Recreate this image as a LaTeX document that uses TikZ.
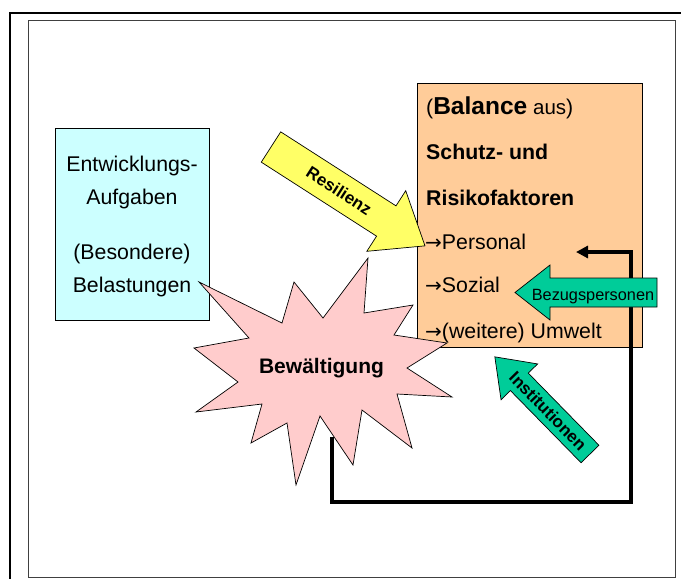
\documentclass[tikz,border=0pt]{standalone}
\usepackage{fontspec}
\setmainfont{Liberation Sans}
\newfontfamily\pfeilfont{DejaVu Sans}
\usetikzlibrary{positioning,arrows.meta}

\definecolor{aufgabencyan}{HTML}{CCFFFF}
\definecolor{faktorenorange}{HTML}{FFCC99}
\definecolor{resilienzgelb}{HTML}{FFFF66}
\definecolor{bewaeltigungrosa}{HTML}{FFCCCC}
\definecolor{stuetzgruen}{HTML}{00CC99}

\newcommand{\pfeil}{{\pfeilfont\fontsize{20}{24}\selectfont →}}

\tikzset{
  boxtext/.style={inner sep=0, font=\fontsize{21.3}{25}\selectfont},
  arrowtext/.style={inner sep=0, font=\fontsize{17}{20}\selectfont\bfseries},
  blockarrow/.style={draw=black, line width=0.7pt, line join=miter}
}

\begin{document}
\begin{tikzpicture}[x=1pt, y=-1pt]
\useasboundingbox (0,0) rectangle (681,579);
\draw[line width=2pt] (681,12.7) -- (10,12.7) -- (10,579);
\draw[black!75, line width=1pt] (28,20) rectangle (675,577);

% linke Box
\node[draw, fill=aufgabencyan, line width=0.7pt, inner sep=0, anchor=north west,
    minimum width=154pt, minimum height=192pt] (aufgaben) at (55,128) {};
\node[boxtext, anchor=base] (entw) at (132,171) {Entwicklungs-};
\node[boxtext, anchor=base] (aufg) at (132,204) {Aufgaben};
\node[boxtext, anchor=base] (besond) at (132,259) {(Besondere)};
\node[boxtext, anchor=base] (belast) at (132,292) {Belastungen};

% rechte Box
\node[draw, fill=faktorenorange, line width=0.7pt, inner sep=0, anchor=north west,
    minimum width=225pt, minimum height=264pt] (faktoren) at (417,83) {};
\node[boxtext, anchor=base west] (balance) at (426,114)
    {({\fontsize{24.5}{28}\selectfont\bfseries Balance} {\fontsize{20.5}{24}\selectfont aus})};
\node[boxtext, anchor=base west, font=\fontsize{21.3}{25}\selectfont\bfseries] (schutz) at (426,159) {Schutz- und};
\node[boxtext, anchor=base west, font=\fontsize{21.3}{25}\selectfont\bfseries] (risiko) at (426,205) {Risikofaktoren};
\node[boxtext, anchor=base west] (personal) at (425,249) {\pfeil Personal};
\node[boxtext, anchor=base west] (sozial) at (425,292) {\pfeil Sozial};
\node[boxtext, anchor=base west] (umwelt) at (425,338) {\pfeil(weitere) Umwelt};

% Rueckkopplung
\coordinate (rueckStart) at (332,437);
\coordinate (personalEin) at (576,252);
\draw[line width=4pt, line join=miter, -{Triangle[length=12pt,width=12pt]}]
    (rueckStart) -- (332,502) -- (631,502) -- (631,252) -- (personalEin);

% Bezugspersonen
\begin{scope}[shift={(657,292.5)}, rotate=180]
\draw[blockarrow, fill=stuetzgruen] (0,-14.5) -- (107,-14.5) -- (107,-27.5) -- (142,0)
    -- (107,27.5) -- (107,14.5) -- (0,14.5) -- cycle;
\end{scope}
\node[inner sep=0, anchor=base, font=\fontsize{16.3}{19}\selectfont] (bezug) at (593,300) {Bezugspersonen};

% Resilienz
\begin{scope}[shift={(271,147)}, rotate=-32.7]
\draw[blockarrow, fill=resilienzgelb] (0,-18) -- (137,-18) -- (137,-36) -- (183,0)
    -- (137,36) -- (137,18) -- (0,18) -- cycle;
\node[arrowtext, rotate=-32.7] (resilienz) at (81,0) {Resilienz};
\end{scope}

% Institutionen
\begin{scope}[shift={(590,454)}, rotate=134.4]
\draw[blockarrow, fill=stuetzgruen] (0,-12.5) -- (101,-12.5) -- (101,-25.6) -- (136,0)
    -- (101,25.6) -- (101,12.5) -- (0,12.5) -- cycle;
\node[arrowtext, rotate=-45.6] (institutionen) at (60,0) {Institutionen};
\end{scope}

% Bewaeltigung
\draw[blockarrow, fill=bewaeltigungrosa] (199,282) -- (282,323) -- (294,282) -- (323,318)
    -- (368,258) -- (364,313) -- (413,305) -- (394,335) -- (447,343) -- (407,368)
    -- (452,397) -- (397,394) -- (412,448) -- (362,410) -- (353,465) -- (320,416)
    -- (296,485) -- (287,423) -- (251,443) -- (262,404) -- (196,412) -- (238,382)
    -- (194,348) -- (249,338) -- cycle;
\node[inner sep=0, anchor=base, font=\fontsize{21}{25}\selectfont\bfseries] (bewaeltigung)
    at (321.5,373) {Bewältigung};
\end{tikzpicture}
\end{document}
